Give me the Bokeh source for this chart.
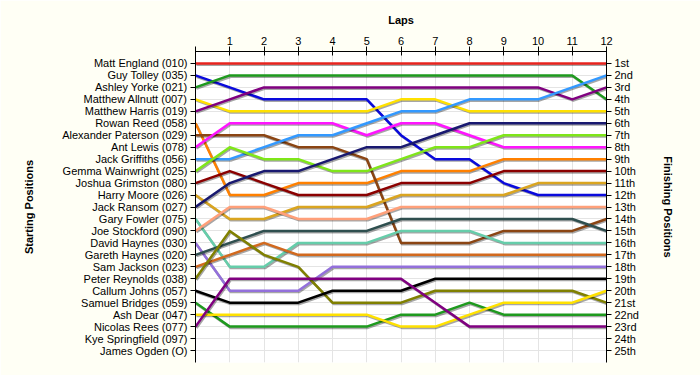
from bokeh.plotting import figure
from bokeh.models import LinearAxis, FixedTicker, Range1d
from bokeh.embed import file_html
from bokeh.resources import INLINE

laps = [0, 1, 2, 3, 4, 5, 6, 7, 8, 9, 10, 11, 12]
lap_labels = ["", "1", "2", "3", "4", "5", "6", "7", "8", "9", "10", "11", "12"]

starting_names = [
    "Matt England (010)", "Guy Tolley (035)", "Ashley Yorke (021)",
    "Matthew Allnutt (007)", "Matthew Harris (019)", "Rowan Reed (058)",
    "Alexander Paterson (029)", "Ant Lewis (078)", "Jack Griffiths (056)",
    "Gemma Wainwright (025)", "Joshua Grimston (080)", "Harry Moore (026)",
    "Jack Ransom (027)", "Gary Fowler (075)", "Joe Stockford (090)",
    "David Haynes (030)", "Gareth Haynes (020)", "Sam Jackson (023)",
    "Peter Reynolds (038)", "Callum Johns (057)", "Samuel Bridges (059)",
    "Ash Dear (047)", "Nicolas Rees (077)", "Kye Springfield (097)",
    "James Ogden (O)",
]
finishing_labels = [
    "1st", "2nd", "3rd", "4th", "5th", "6th", "7th", "8th", "9th", "10th",
    "11th", "12th", "13th", "14th", "15th", "16th", "17th", "18th", "19th",
    "20th", "21st", "22nd", "23rd", "24th", "25th",
]

# position of each driver at laps 0..12
matt_england       = [1, 1, 1, 1, 1, 1, 1, 1, 1, 1, 1, 1, 1]
guy_tolley         = [2, 3, 4, 4, 4, 4, 7, 9, 9, 11, 12, 12, 12]
ashley_yorke       = [3, 2, 2, 2, 2, 2, 2, 2, 2, 2, 2, 2, 4]
matthew_allnutt    = [4, 5, 5, 5, 5, 5, 4, 4, 5, 5, 5, 5, 5]
matthew_harris     = [5, 4, 3, 3, 3, 3, 3, 3, 3, 3, 3, 4, 3]
rowan_reed         = [6, 12, 12, 11, 11, 11, 10, 10, 10, 9, 9, 9, 9]
alexander_paterson = [7, 7, 7, 8, 8, 9, 16, 16, 16, 15, 15, 15, 14]
ant_lewis          = [8, 6, 6, 6, 6, 7, 6, 6, 7, 8, 8, 8, 8]
jack_griffiths     = [9, 9, 8, 7, 7, 6, 5, 5, 4, 4, 4, 3, 2]
gemma_wainwright   = [10, 8, 9, 9, 10, 10, 9, 8, 8, 7, 7, 7, 7]
joshua_grimston    = [11, 10, 11, 12, 12, 12, 11, 11, 11, 10, 10, 10, 10]
harry_moore        = [12, 14, 14, 13, 13, 13, 12, 12, 12, 12, 11, 11, 11]
jack_ransom        = [13, 11, 10, 10, 9, 8, 8, 7, 6, 6, 6, 6, 6]
gary_fowler        = [14, 18, 18, 16, 16, 16, 15, 15, 15, 16, 16, 16, 16]
joe_stockford      = [15, 13, 13, 14, 14, 14, 13, 13, 13, 13, 13, 13, 13]
david_haynes       = [16, 20, 20, 20, 18, 18, 18, 18, 18, 18, 18, 18, 18]
gareth_haynes      = [17, 16, 15, 15, 15, 15, 14, 14, 14, 14, 14, 14, 15]
sam_jackson        = [18, 17, 16, 17, 17, 17, 17, 17, 17, 17, 17, 17, 17]
peter_reynolds     = [19, 15, 17, 18, 21, 21, 21, 20, 20, 20, 20, 20, 21]
callum_johns       = [20, 21, 21, 21, 20, 20, 20, 19, 19, 19, 19, 19, 19]
samuel_bridges     = [21, 23, 23, 23, 23, 23, 22, 22, 21, 22, 22, 22, 22]
ash_dear           = [22, 22, 22, 22, 22, 22, 23, 23, 22, 21, 21, 21, 20]
nicolas_rees       = [23, 19, 19, 19, 19, 19, 19, 21, 23, 23, 23, 23, 23]

series = [
    (matt_england, "#E8231E"), (guy_tolley, "#0A0ADC"), (ashley_yorke, "#1E9A1E"),
    (matthew_allnutt, "#FFE100"), (matthew_harris, "#800080"), (rowan_reed, "#FF8000"),
    (alexander_paterson, "#8B4513"), (ant_lewis, "#FF14FF"), (jack_griffiths, "#3399FF"),
    (gemma_wainwright, "#7FE619"), (joshua_grimston, "#8B0000"), (harry_moore, "#DAA520"),
    (jack_ransom, "#191970"), (gary_fowler, "#66CDAA"), (joe_stockford, "#FFA07A"),
    (david_haynes, "#9370DB"), (gareth_haynes, "#2F4F4F"), (sam_jackson, "#D2691E"),
    (peter_reynolds, "#808000"), (callum_johns, "#000000"), (samuel_bridges, "#1E9A1E"),
    (ash_dear, "#FFE100"), (nicolas_rees, "#800080"),
]

FONT = "Liberation Sans"
positions = list(range(1, len(starting_names) + 1))

p = figure(width=700, height=375, output_backend="svg", toolbar_location=None,
           x_range=Range1d(0, 12), y_range=Range1d(26, 0),
           x_axis_location="above", y_axis_location="left",
           min_border_left=195, min_border_right=94, min_border_top=51,
           min_border_bottom=13)
p.background_fill_color = "white"
p.border_fill_color = "#FFFFF5"
p.outline_line_color = None

# grids
p.xgrid.ticker = FixedTicker(ticks=laps)
p.ygrid.ticker = FixedTicker(ticks=positions)
p.xgrid.grid_line_color = "#E4E4E4"
p.ygrid.grid_line_color = "#E4E4E4"

# top axis
xa = p.xaxis[0]
xa.ticker = FixedTicker(ticks=laps)
xa.major_label_overrides = {l: t for l, t in zip(laps, lap_labels)}
xa.axis_label = "Laps"
xa.major_tick_in = 4
xa.major_tick_out = 5
xa.minor_tick_line_color = None
xa.major_label_standoff = 2
xa.axis_label_standoff = 8

# left axis
ya = p.yaxis[0]
ya.ticker = FixedTicker(ticks=positions)
ya.major_label_overrides = {i: n for i, n in zip(positions, starting_names)}
ya.axis_label = "Starting Positions"

# right axis
ra = LinearAxis(ticker=FixedTicker(ticks=positions),
                major_label_overrides={i: n for i, n in zip(positions, finishing_labels)},
                axis_label="Finishing Positions")
p.add_layout(ra, "right")

for ax in (ya, ra):
    ax.major_tick_in = 0
    ax.major_tick_out = 5
    ax.minor_tick_line_color = None
    ax.major_label_standoff = 3
ya.axis_label_standoff = 24
ra.axis_label_standoff = 20

for ax in (xa, ya, ra):
    ax.axis_line_color = "black"
    ax.major_tick_line_color = "black"
    ax.major_label_text_font = FONT
    ax.major_label_text_font_size = "11px"
    ax.major_label_text_color = "black"
    ax.axis_label_text_font = FONT
    ax.axis_label_text_font_size = "11px"
    ax.axis_label_text_font_style = "bold"
    ax.axis_label_text_color = "black"

# shadow offset: about 1 px right and 1.3 px down, in data units
dx = 12 / 411 * 1.0
dy = 26 / 311 * 1.3

for pos, color in series:
    p.line([x + dx for x in laps], [y + dy for y in pos], line_color="#000000",
           line_alpha=0.35, line_width=2.5, line_join="round")
    p.line(laps, pos, line_color=color, line_width=2.5, line_join="round")

open("out.html", "w").write(file_html(p, INLINE))
